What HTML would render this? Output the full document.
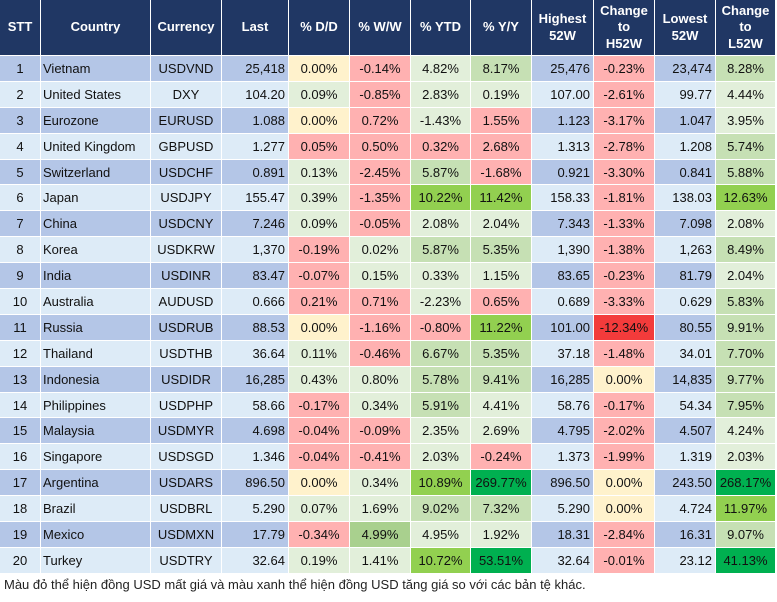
<!DOCTYPE html>
<html><head><meta charset="utf-8">
<style>
html,body{margin:0;padding:0;background:#fff;}
body{width:777px;height:602px;position:relative;overflow:hidden;font-family:"Liberation Sans",Arial,sans-serif;font-size:13px;color:#111;}
.t{position:absolute;left:0;top:0;display:grid;grid-template-columns:40px 109px 70px 66px 60px 60px 59px 60px 61px 60px 60px 59px;grid-template-rows:55px repeat(20,24.9px);column-gap:1px;row-gap:1px;}
.t>div{display:flex;align-items:center;justify-content:center;white-space:nowrap;overflow:hidden;}
.t>div:nth-child(12n+2){justify-content:flex-start;padding-left:2px;}
.t>div:nth-child(12n+4),.t>div:nth-child(12n+9),.t>div:nth-child(12n+11){justify-content:flex-end;padding-right:3px;}
.t>div.h{background:#203764;color:#fff;font-weight:bold;justify-content:center;padding:0;text-align:center;line-height:16.5px;}
.t>div:nth-child(24n+13),.t>div:nth-child(24n+14),.t>div:nth-child(24n+15),.t>div:nth-child(24n+16),.t>div:nth-child(24n+21),.t>div:nth-child(24n+23){background:#B4C6E7;}
.t>div:nth-child(24n+25),.t>div:nth-child(24n+26),.t>div:nth-child(24n+27),.t>div:nth-child(24n+28),.t>div:nth-child(24n+33),.t>div:nth-child(24n+35){background:#DDEBF7;}
.Y{background:#FFF2CC;}
.R{background:#FFB1B1;}
.X{background:#F33B3B;}
.L{background:#E2EFDA;}
.M{background:#C6E0B4;}
.G{background:#92D050;}
.D{background:#00B050;}
.A{background:#A9D08E;}
.f{position:absolute;left:4px;top:577px;font-size:13px;line-height:15px;color:#222;white-space:nowrap;font-family:"Liberation Sans",Arial,sans-serif;}
</style></head><body>
<div class="t">
<div class="h">STT</div><div class="h">Country</div><div class="h">Currency</div><div class="h">Last</div><div class="h">% D/D</div><div class="h">% W/W</div><div class="h">% YTD</div><div class="h">% Y/Y</div><div class="h">Highest<br>52W</div><div class="h">Change<br>to<br>H52W</div><div class="h">Lowest<br>52W</div><div class="h">Change<br>to<br>L52W</div>

<div>1</div><div>Vietnam</div><div>USDVND</div><div>25,418</div><div class="Y">0.00%</div><div class="R">-0.14%</div><div class="L">4.82%</div><div class="M">8.17%</div><div>25,476</div><div class="R">-0.23%</div><div>23,474</div><div class="M">8.28%</div>
<div>2</div><div>United States</div><div>DXY</div><div>104.20</div><div class="L">0.09%</div><div class="R">-0.85%</div><div class="L">2.83%</div><div class="L">0.19%</div><div>107.00</div><div class="R">-2.61%</div><div>99.77</div><div class="L">4.44%</div>
<div>3</div><div>Eurozone</div><div>EURUSD</div><div>1.088</div><div class="Y">0.00%</div><div class="R">0.72%</div><div class="L">-1.43%</div><div class="R">1.55%</div><div>1.123</div><div class="R">-3.17%</div><div>1.047</div><div class="L">3.95%</div>
<div>4</div><div>United Kingdom</div><div>GBPUSD</div><div>1.277</div><div class="R">0.05%</div><div class="R">0.50%</div><div class="R">0.32%</div><div class="R">2.68%</div><div>1.313</div><div class="R">-2.78%</div><div>1.208</div><div class="M">5.74%</div>
<div>5</div><div>Switzerland</div><div>USDCHF</div><div>0.891</div><div class="L">0.13%</div><div class="R">-2.45%</div><div class="M">5.87%</div><div class="R">-1.68%</div><div>0.921</div><div class="R">-3.30%</div><div>0.841</div><div class="M">5.88%</div>
<div>6</div><div>Japan</div><div>USDJPY</div><div>155.47</div><div class="L">0.39%</div><div class="R">-1.35%</div><div class="G">10.22%</div><div class="G">11.42%</div><div>158.33</div><div class="R">-1.81%</div><div>138.03</div><div class="G">12.63%</div>
<div>7</div><div>China</div><div>USDCNY</div><div>7.246</div><div class="L">0.09%</div><div class="R">-0.05%</div><div class="L">2.08%</div><div class="L">2.04%</div><div>7.343</div><div class="R">-1.33%</div><div>7.098</div><div class="L">2.08%</div>
<div>8</div><div>Korea</div><div>USDKRW</div><div>1,370</div><div class="R">-0.19%</div><div class="L">0.02%</div><div class="M">5.87%</div><div class="M">5.35%</div><div>1,390</div><div class="R">-1.38%</div><div>1,263</div><div class="M">8.49%</div>
<div>9</div><div>India</div><div>USDINR</div><div>83.47</div><div class="R">-0.07%</div><div class="L">0.15%</div><div class="L">0.33%</div><div class="L">1.15%</div><div>83.65</div><div class="R">-0.23%</div><div>81.79</div><div class="L">2.04%</div>
<div>10</div><div>Australia</div><div>AUDUSD</div><div>0.666</div><div class="R">0.21%</div><div class="R">0.71%</div><div class="L">-2.23%</div><div class="R">0.65%</div><div>0.689</div><div class="R">-3.33%</div><div>0.629</div><div class="M">5.83%</div>
<div>11</div><div>Russia</div><div>USDRUB</div><div>88.53</div><div class="Y">0.00%</div><div class="R">-1.16%</div><div class="R">-0.80%</div><div class="G">11.22%</div><div>101.00</div><div class="X">-12.34%</div><div>80.55</div><div class="M">9.91%</div>
<div>12</div><div>Thailand</div><div>USDTHB</div><div>36.64</div><div class="L">0.11%</div><div class="R">-0.46%</div><div class="M">6.67%</div><div class="M">5.35%</div><div>37.18</div><div class="R">-1.48%</div><div>34.01</div><div class="M">7.70%</div>
<div>13</div><div>Indonesia</div><div>USDIDR</div><div>16,285</div><div class="L">0.43%</div><div class="L">0.80%</div><div class="M">5.78%</div><div class="M">9.41%</div><div>16,285</div><div class="Y">0.00%</div><div>14,835</div><div class="M">9.77%</div>
<div>14</div><div>Philippines</div><div>USDPHP</div><div>58.66</div><div class="R">-0.17%</div><div class="L">0.34%</div><div class="M">5.91%</div><div class="L">4.41%</div><div>58.76</div><div class="R">-0.17%</div><div>54.34</div><div class="M">7.95%</div>
<div>15</div><div>Malaysia</div><div>USDMYR</div><div>4.698</div><div class="R">-0.04%</div><div class="R">-0.09%</div><div class="L">2.35%</div><div class="L">2.69%</div><div>4.795</div><div class="R">-2.02%</div><div>4.507</div><div class="L">4.24%</div>
<div>16</div><div>Singapore</div><div>USDSGD</div><div>1.346</div><div class="R">-0.04%</div><div class="R">-0.41%</div><div class="L">2.03%</div><div class="R">-0.24%</div><div>1.373</div><div class="R">-1.99%</div><div>1.319</div><div class="L">2.03%</div>
<div>17</div><div>Argentina</div><div>USDARS</div><div>896.50</div><div class="Y">0.00%</div><div class="L">0.34%</div><div class="G">10.89%</div><div class="D">269.77%</div><div>896.50</div><div class="Y">0.00%</div><div>243.50</div><div class="D">268.17%</div>
<div>18</div><div>Brazil</div><div>USDBRL</div><div>5.290</div><div class="L">0.07%</div><div class="L">1.69%</div><div class="M">9.02%</div><div class="M">7.32%</div><div>5.290</div><div class="Y">0.00%</div><div>4.724</div><div class="G">11.97%</div>
<div>19</div><div>Mexico</div><div>USDMXN</div><div>17.79</div><div class="R">-0.34%</div><div class="A">4.99%</div><div class="L">4.95%</div><div class="L">1.92%</div><div>18.31</div><div class="R">-2.84%</div><div>16.31</div><div class="M">9.07%</div>
<div>20</div><div>Turkey</div><div>USDTRY</div><div>32.64</div><div class="L">0.19%</div><div class="L">1.41%</div><div class="G">10.72%</div><div class="D">53.51%</div><div>32.64</div><div class="R">-0.01%</div><div>23.12</div><div class="D">41.13%</div>
</div>
<div class="f">Màu đỏ thể hiện đồng USD mất giá và màu xanh thể hiện đồng USD tăng giá so với các bản tệ khác.</div>
</body></html>
